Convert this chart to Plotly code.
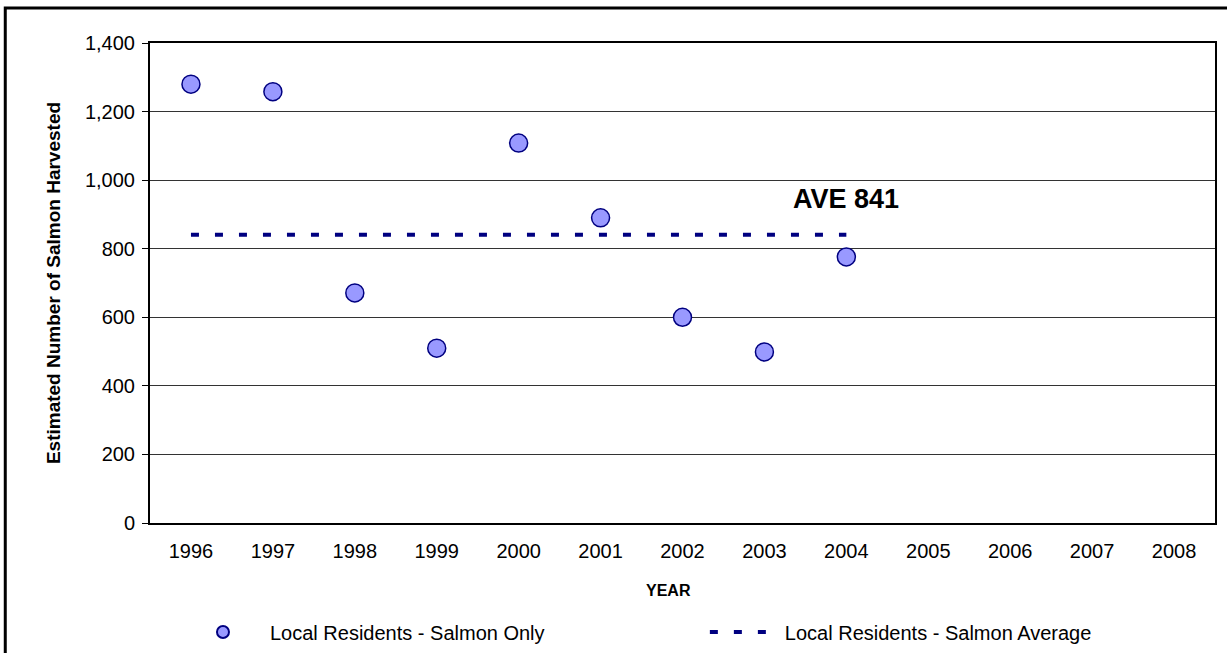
import plotly.graph_objects as go

years = [1996, 1997, 1998, 1999, 2000, 2001, 2002, 2003, 2004, 2005, 2006, 2007, 2008]
harvest_years = [1996, 1997, 1998, 1999, 2000, 2001, 2002, 2003, 2004]
salmon_harvested = [1280, 1258, 671, 510, 1108, 890, 600, 499, 776]
average_value = 841
average_years = [1996, 2004]
average_line = [average_value, average_value]

FONT = "Liberation Sans, Arial"

fig = go.Figure()

fig.add_trace(go.Scatter(
    x=harvest_years, y=salmon_harvested, mode="markers",
    name="Local Residents - Salmon Only", legend="legend",
    marker=dict(size=18, color="#9999FF", line=dict(color="#000080", width=1.5)),
))

fig.add_trace(go.Scatter(
    x=average_years, y=average_line, mode="lines",
    name="Local Residents - Salmon Average", legend="legend2",
    line=dict(color="#000080", width=4, dash="8px,16px"),
))

fig.add_annotation(
    x=2004, y=average_value, xref="x", yref="y",
    text="<b>AVE 841</b>", showarrow=False,
    yshift=36, font=dict(family=FONT, size=27, color="black"),
)

fig.add_annotation(
    x=0.487, y=-0.14, xref="paper", yref="paper",
    text="<b>YEAR</b>", showarrow=False,
    xanchor="center", yanchor="middle",
    font=dict(family=FONT, size=16, color="black"),
)

fig.add_annotation(
    x=-0.091, y=0.5, xref="paper", yref="paper",
    text="<b>Estimated Number of Salmon Harvested</b>", showarrow=False,
    textangle=-90, xanchor="center", yanchor="middle",
    font=dict(family=FONT, size=19, color="black"),
)

# outer chart frame (cropped at right and bottom in the reference)
fig.add_shape(type="rect", xref="paper", yref="paper",
              x0=-0.1359, y0=-0.30, x1=1.05, y1=1.0729,
              line=dict(color="black", width=3), fillcolor="rgba(0,0,0,0)", layer="above")

fig.update_layout(
    width=1227, height=690,
    margin=dict(l=150, r=10, t=43, b=167),
    paper_bgcolor="white", plot_bgcolor="white",
    font=dict(family=FONT, size=20, color="black"),
    showlegend=True,
    legend=dict(orientation="h", x=0.0244, y=-0.227, xanchor="left", yanchor="middle",
                font=dict(size=20), itemwidth=84, itemsizing="constant",
                bgcolor="rgba(0,0,0,0)"),
    legend2=dict(orientation="h", x=0.521, y=-0.227, xanchor="left", yanchor="middle",
                 font=dict(size=20), itemwidth=70,
                 bgcolor="rgba(0,0,0,0)"),
)

fig.update_xaxes(
    range=[1995.5, 2008.5], tickvals=years, ticktext=[str(y) for y in years],
    showgrid=False, zeroline=False, showline=True, linecolor="black", linewidth=2,
    mirror=True, ticks="", ticklabelstandoff=9,
)

fig.update_yaxes(
    range=[0, 1400], dtick=200, tickformat=",",
    showgrid=True, gridcolor="#333333", gridwidth=1,
    zeroline=False, showline=True, linecolor="black", linewidth=2, mirror=True,
    ticks="outside", ticklen=6, tickcolor="black", ticklabelstandoff=3,
)

fig.write_html(
    "out.html",
    config={"displayModeBar": False},
    post_script="document.body.style.margin='0px';document.body.style.overflow='hidden';",
)
